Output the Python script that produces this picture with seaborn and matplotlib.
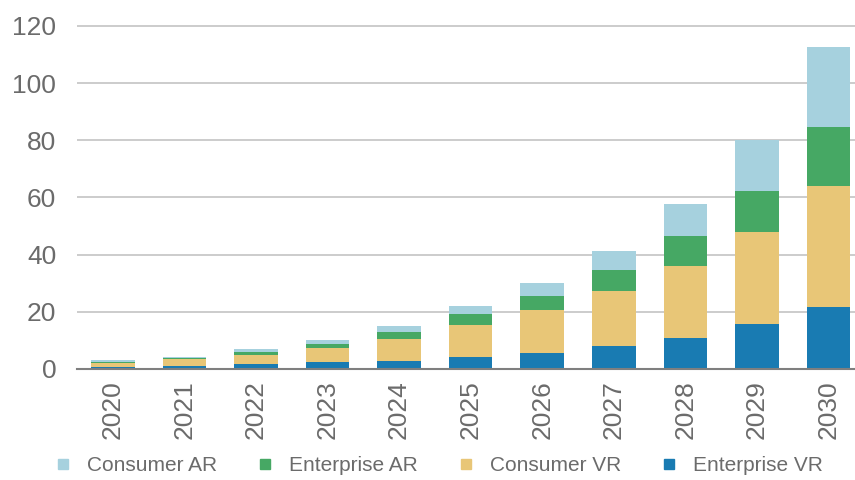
import matplotlib
matplotlib.use("Agg")
import matplotlib.pyplot as plt
import seaborn as sns
import pandas as pd
import numpy as np
from matplotlib.lines import Line2D

years = ["2020", "2021", "2022", "2023", "2024", "2025", "2026", "2027", "2028", "2029", "2030"]
enterprise_vr = [0.8, 1.1, 1.7, 2.3, 2.9, 4.1, 5.6, 7.9, 11.0, 15.7, 21.6]
consumer_vr = [1.3, 2.4, 3.2, 4.9, 7.6, 11.4, 15.0, 19.3, 25.1, 32.3, 42.4]
enterprise_ar = [0.5, 0.5, 0.9, 1.5, 2.3, 3.7, 5.0, 7.4, 10.3, 14.4, 20.5]
consumer_ar = [0.4, 0.3, 1.2, 1.6, 2.1, 2.9, 4.5, 6.8, 11.3, 17.8, 28.0]

series_names = ["Enterprise VR", "Consumer VR", "Enterprise AR", "Consumer AR"]
series_values = [enterprise_vr, consumer_vr, enterprise_ar, consumer_ar]
colors = {
    "Consumer AR": "#a6d1de",
    "Enterprise AR": "#46a864",
    "Consumer VR": "#e8c677",
    "Enterprise VR": "#197bb2",
}

sns.set_theme(style="white")
plt.rcParams['font.family'] = ['Liberation Sans', 'DejaVu Sans']

fig = plt.figure(figsize=(8.55, 4.8), dpi=100)
ax = fig.add_axes([77 / 855, 1 - 369 / 480, 1 - 77 / 855, (369 - 11.7) / 480])

cum = np.cumsum(np.array(series_values), axis=0)
df = pd.DataFrame({"year": years})
for name, c in zip(series_names, cum):
    df[name] = c

# draw tallest cumulative first so lower segments overlay
for name in reversed(series_names):
    sns.barplot(data=df, x="year", y=name, color=colors[name], width=0.61,
                saturation=1, ax=ax, zorder=3, edgecolor="none", linewidth=0)

ax.set_xlim(-0.5, 10.37)
ax.set_ylim(0, 125)
ax.set_yticks([0, 20, 40, 60, 80, 100, 120])
ax.yaxis.grid(True, color="#c4c4c4", linewidth=1.2, zorder=0)
ax.set_axisbelow(True)
ax.set_xlabel("")
ax.set_ylabel("")
for s in ["top", "right", "left"]:
    ax.spines[s].set_visible(False)
ax.spines["bottom"].set_color("#7f7f7f")
ax.spines["bottom"].set_linewidth(1.5)
ax.spines["bottom"].set_zorder(5)
ax.tick_params(axis="both", length=0, labelsize=19, labelcolor="#6b6b6b")
ax.tick_params(axis="y", pad=15)
ax.tick_params(axis="x", pad=8)
plt.setp(ax.get_xticklabels(), rotation=90, va="top", ha="center")

legend_order = ["Consumer AR", "Enterprise AR", "Consumer VR", "Enterprise VR"]
handles = [Line2D([0], [0], marker="s", linestyle="none", markersize=7,
                  markerfacecolor=colors[n], markeredgecolor=colors[n]) for n in legend_order]
fig.legend(handles, legend_order, loc="center", bbox_to_anchor=(0.512, 0.030),
           ncol=4, frameon=False, fontsize=15, labelcolor="#6b6b6b",
           handletextpad=0.65, columnspacing=1.8, handlelength=1.0)

fig.savefig("out.png", dpi=100)
